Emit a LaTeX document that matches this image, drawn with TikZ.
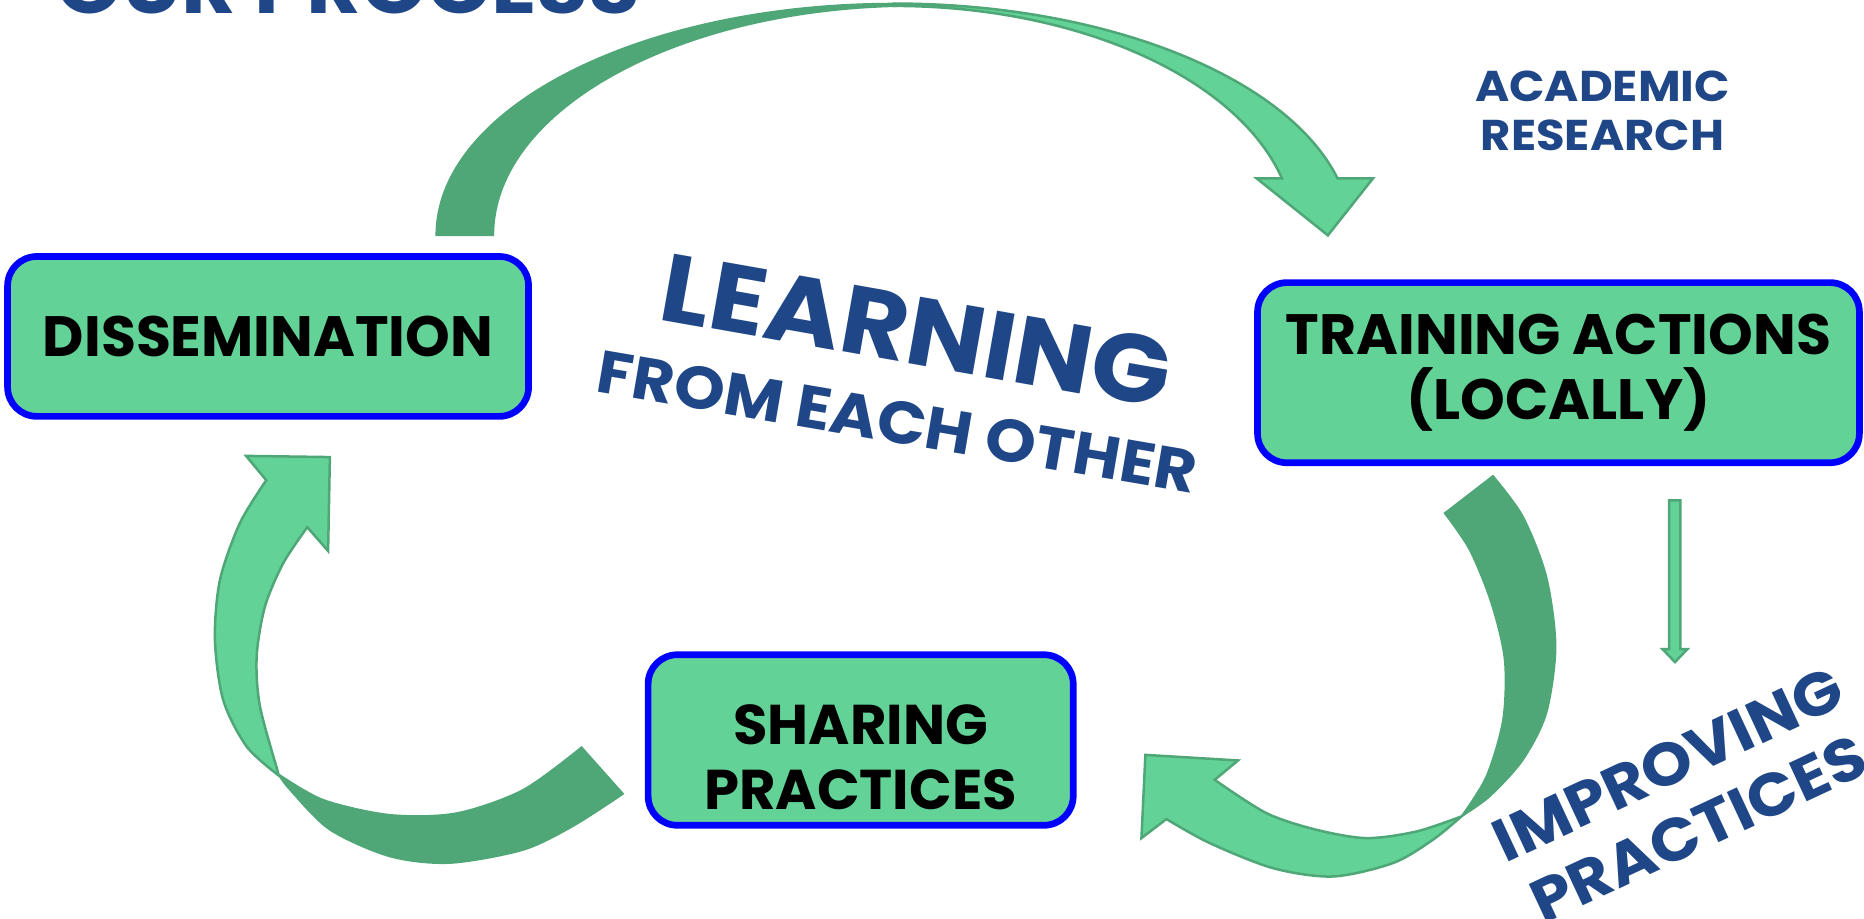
\documentclass[tikz,border=0pt]{standalone}
\usepackage{fontspec}
\setmainfont{Poppins}
\newfontfamily\widefont{Poppins}[FakeStretch=1.08]
\definecolor{leaf}{HTML}{62D297}
\definecolor{moss}{HTML}{4FA777}
\definecolor{ink}{HTML}{1F4788}
\definecolor{rim}{HTML}{0000FF}
\tikzset{
  stage/.style={draw=rim,line width=1.6pt,fill=leaf,rounded corners=7pt,align=center,text=black,
    font=\fontsize{13.6}{15.4}\selectfont\bfseries},
  tag/.style={text=ink,align=center,inner sep=0pt},
  back/.style={fill=moss,draw=moss,line width=0.4pt},
  front/.style={fill=leaf,draw=moss,line width=0.6pt}
}
\begin{document}
\begin{tikzpicture}[x=0.01cm,y=-0.01cm]
\useasboundingbox (0,0) rectangle (1568,773);
\clip (0,0) rectangle (1568,773);

\filldraw[back] (367,198) arc[start angle=180,end angle=270,x radius=385,y radius=195]
  -- (770,5) arc[start angle=270,end angle=180,x radius=355,y radius=193] -- cycle;
\filldraw[front] (752,3) arc[start angle=270,end angle=345.75,x radius=385,y radius=195]
  -- (1155,150) -- (1117,198) -- (1057,150) -- (1078.4,150)
  arc[start angle=345.6,end angle=270,x radius=337,y radius=193] -- cycle;

\filldraw[back] plot[smooth] coordinates {(234,651) (243.9,664.4) (277.5,698) (328,720.5) (378.5,726) (440,715) (482,695) (524.2,667.8)}
  -- plot[smooth] coordinates {(489.2,628.5) (440,664.4) (384,684) (328,685.4) (272,672.8) (234,651)} -- cycle;
\filldraw[front] plot[smooth] coordinates {(234,652) (207.5,628) (187.8,589) (180.8,538) (185,488) (201.8,440) (224,404)}
  -- (207,383.5) -- (277.5,384.5) -- (276,463.5)
  -- plot[smooth] coordinates {(258.5,443.5) (238.3,473.7) (222.9,510.2) (215.9,552.3) (218.7,594.3) (234,650)} -- cycle;

\filldraw[back] plot[smooth] coordinates {(1255.9,400.3) (1281.1,434.5) (1300.8,485) (1308.6,543.9) (1300.8,599.9) (1281.1,639.2) (1253.1,670) (1229.3,686.8)}
  -- plot[smooth] coordinates {(1229.3,686.8) (1250.3,653.2) (1264.3,605.5) (1265.7,555.1) (1254.5,507.4) (1236.3,462.6) (1215.2,431.7)} -- cycle;
\filldraw[front] plot[smooth] coordinates {(1229.3,686.8) (1205.4,706.4) (1171.8,726) (1121.3,737.3) (1070.9,730.3) (1017.6,709.2) (981.2,689)}
  -- (960.2,705) -- (963.5,635) -- (1041.4,639.7)
  -- plot[smooth] coordinates {(1021.8,656) (1065.3,684) (1107.3,698) (1149.4,705) (1191.4,699.5) (1229.3,686.8)} -- cycle;

\filldraw[front] (1404,421) -- (1413.5,421) -- (1413.5,546) -- (1419.5,546) -- (1409,557) -- (1398.5,546) -- (1404,546) -- cycle;

\node[stage,minimum width=4.38cm,minimum height=1.344cm] (diss) at (225.5,283) {DISSEMINATION};
\node[stage,minimum width=5.06cm,minimum height=1.514cm] (train) at (1311,313.5) {TRAINING ACTIONS\\(LOCALLY)};
\node[stage,minimum width=3.574cm,minimum height=1.434cm] (share) at (724,622.5) {};
\node[align=center,inner sep=0pt,font=\fontsize{13.4}{15.4}\selectfont\bfseries] (sharetext) at ([yshift=-0.145cm]share.center) {SHARING\\PRACTICES};

\node[tag,anchor=base west,font=\widefont\fontsize{18.6}{22}\selectfont\bfseries] (title) at (47,11) {OUR PROCESS};
\node[tag,font=\widefont\fontsize{10.3}{11.8}\selectfont\bfseries] (research) at (1348,93) {ACADEMIC\\RESEARCH};
\node[tag,rotate=-10,font=\widefont\fontsize{23}{27}\selectfont\bfseries] (learn) at (771,278) {LEARNING};
\node[tag,rotate=-9.7,font=\widefont\fontsize{14.3}{17}\selectfont\bfseries] (each) at (755,355) {FROM EACH OTHER};
\node[tag,rotate=25,font=\widefont\fontsize{14.4}{17.1}\selectfont\bfseries] (improve) at (1416,670) {IMPROVING\\PRACTICES};
\end{tikzpicture}
\end{document}
